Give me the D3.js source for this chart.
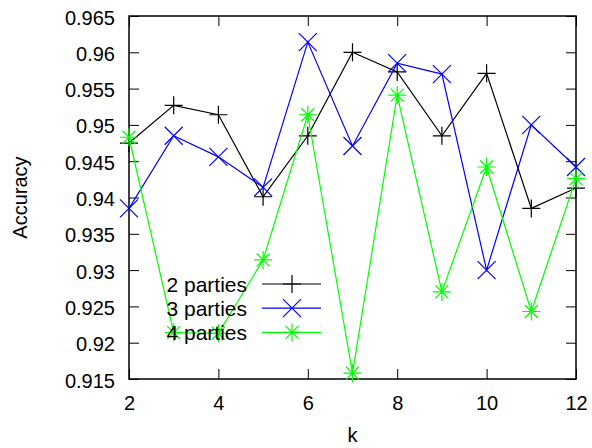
<!DOCTYPE html>
<html>
<head>
<meta charset="utf-8">
<script src="https://cdn.jsdelivr.net/npm/d3@7"></script>
<style>
  body { margin: 0; background: #fff; }
  svg { display: block; }
  text { font-family: "Liberation Sans", Arial, sans-serif; fill: #000; }
</style>
</head>
<body>
<svg id="chart" width="592" height="448"></svg>
<script>
// data
var ks = [2, 3, 4, 5, 6, 7, 8, 9, 10, 11, 12];
var twoParties   = [0.9475, 0.9527, 0.9514, 0.9401, 0.9485, 0.9600, 0.9573, 0.9485, 0.9571, 0.9385, 0.9413];
var threeParties = [0.9385, 0.9485, 0.9456, 0.9414, 0.9614, 0.9471, 0.9585, 0.9570, 0.9300, 0.9500, 0.9442];
var fourParties  = [0.9483, 0.9214, 0.9213, 0.9314, 0.9514, 0.9158, 0.9541, 0.9270, 0.9442, 0.9243, 0.9426];
var seriesNames  = ["2 parties", "3 parties", "4 parties"];
var xTicks = [2, 4, 6, 8, 10, 12];
var yTicks = [0.915, 0.92, 0.925, 0.93, 0.935, 0.94, 0.945, 0.95, 0.955, 0.96, 0.965];

var series = [
    { id: seriesNames[0], values: twoParties,   color: "#000000", mark: "plus" },
    { id: seriesNames[1], values: threeParties, color: "#0000ff", mark: "cross" },
    { id: seriesNames[2], values: fourParties,  color: "#00ff00", mark: "star" }
];

var svg = d3.select("#chart"),
    margin = { top: 16, right: 16, bottom: 69, left: 129 },
    width = 592 - margin.left - margin.right,
    height = 448 - margin.top - margin.bottom;

var g = svg.append("g").attr("transform", "translate(" + margin.left + "," + margin.top + ")");

var xScale = d3.scaleLinear().domain([2, 12]).range([0, width]),
    yScale = d3.scaleLinear().domain([0.915, 0.965]).range([height, 0]);

var fontSize = "20px";
var tickLen = 10;

// marker path centred at 0,0
function markerPath(type, r) {
    var p = d3.path();
    if (type == "plus" || type == "star") {
        p.moveTo(-r, 0); p.lineTo(r, 0);
        p.moveTo(0, -r); p.lineTo(0, r);
    }
    if (type == "cross" || type == "star") {
        var d = type == "star" ? r * 0.72 : r;
        p.moveTo(-d, -d); p.lineTo(d, d);
        p.moveTo(-d, d); p.lineTo(d, -d);
    }
    return p.toString();
}

// bottom and top axes, ticks point inward
var xBottom = g.append("g")
    .attr("transform", "translate(0," + height + ")")
    .call(d3.axisBottom(xScale).tickValues(xTicks).tickSize(-tickLen).tickPadding(17).tickFormat(d3.format("d")));
var xTop = g.append("g")
    .call(d3.axisTop(xScale).tickValues(xTicks).tickSize(-tickLen).tickFormat(""));
var yLeft = g.append("g")
    .call(d3.axisLeft(yScale).tickValues(yTicks).tickSize(-tickLen).tickPadding(14).tickFormat(d3.format("")));
var yRight = g.append("g")
    .attr("transform", "translate(" + width + ",0)")
    .call(d3.axisRight(yScale).tickValues(yTicks).tickSize(-tickLen).tickFormat(""));

[xBottom, xTop, yLeft, yRight].forEach(function(a) {
    a.select(".domain").remove();
    a.selectAll(".tick line").attr("stroke", "#000").attr("stroke-width", 1);
    a.selectAll("text").style("font-size", fontSize).attr("fill", "#000");
});
yLeft.selectAll(".tick text").attr("dy", "0.4em");

// frame
g.append("rect")
    .attr("width", width)
    .attr("height", height)
    .attr("fill", "none")
    .attr("stroke", "#000")
    .attr("stroke-width", 1.5);

// axis titles
svg.append("text")
    .attr("transform", "translate(27," + (margin.top + height / 2) + ") rotate(-90)")
    .attr("text-anchor", "middle")
    .style("font-size", fontSize)
    .text("Accuracy");
svg.append("text")
    .attr("x", margin.left + width / 2)
    .attr("y", 442)
    .attr("text-anchor", "middle")
    .style("font-size", fontSize)
    .text("k");

var line = d3.line()
    .x(function(d, i) { return xScale(ks[i]); })
    .y(function(d) { return yScale(d); });

// legend (drawn under the data like gnuplot's key here)
var legend = svg.append("g");
series.forEach(function(s, i) {
    var y = 284 + i * 24.2;
    legend.append("text")
        .attr("x", 247)
        .attr("y", y + 7.5)
        .attr("text-anchor", "end")
        .style("font-size", "21px")
        .text(s.id);
    legend.append("line")
        .attr("x1", 262).attr("x2", 321)
        .attr("y1", y).attr("y2", y)
        .attr("stroke", s.color).attr("stroke-width", 1.2);
    legend.append("path")
        .attr("transform", "translate(292," + y + ")")
        .attr("d", markerPath(s.mark, 9))
        .attr("fill", "none")
        .attr("stroke", s.color).attr("stroke-width", 1.2);
});

// series lines and points
var seriesGroup = g.selectAll(".seriesGroup")
    .data(series)
    .enter().append("g")
    .attr("class", "seriesGroup");

seriesGroup.append("path")
    .attr("d", function(d) { return line(d.values); })
    .attr("fill", "none")
    .attr("stroke", function(d) { return d.color; })
    .attr("stroke-width", 1.2);

seriesGroup.each(function(s) {
    d3.select(this).selectAll(".pt")
        .data(s.values)
        .enter().append("path")
        .attr("class", "pt")
        .attr("transform", function(d, i) { return "translate(" + xScale(ks[i]) + "," + yScale(d) + ")"; })
        .attr("d", markerPath(s.mark, 9))
        .attr("fill", "none")
        .attr("stroke", s.color)
        .attr("stroke-width", 1.2);
});
</script>
</body>
</html>
